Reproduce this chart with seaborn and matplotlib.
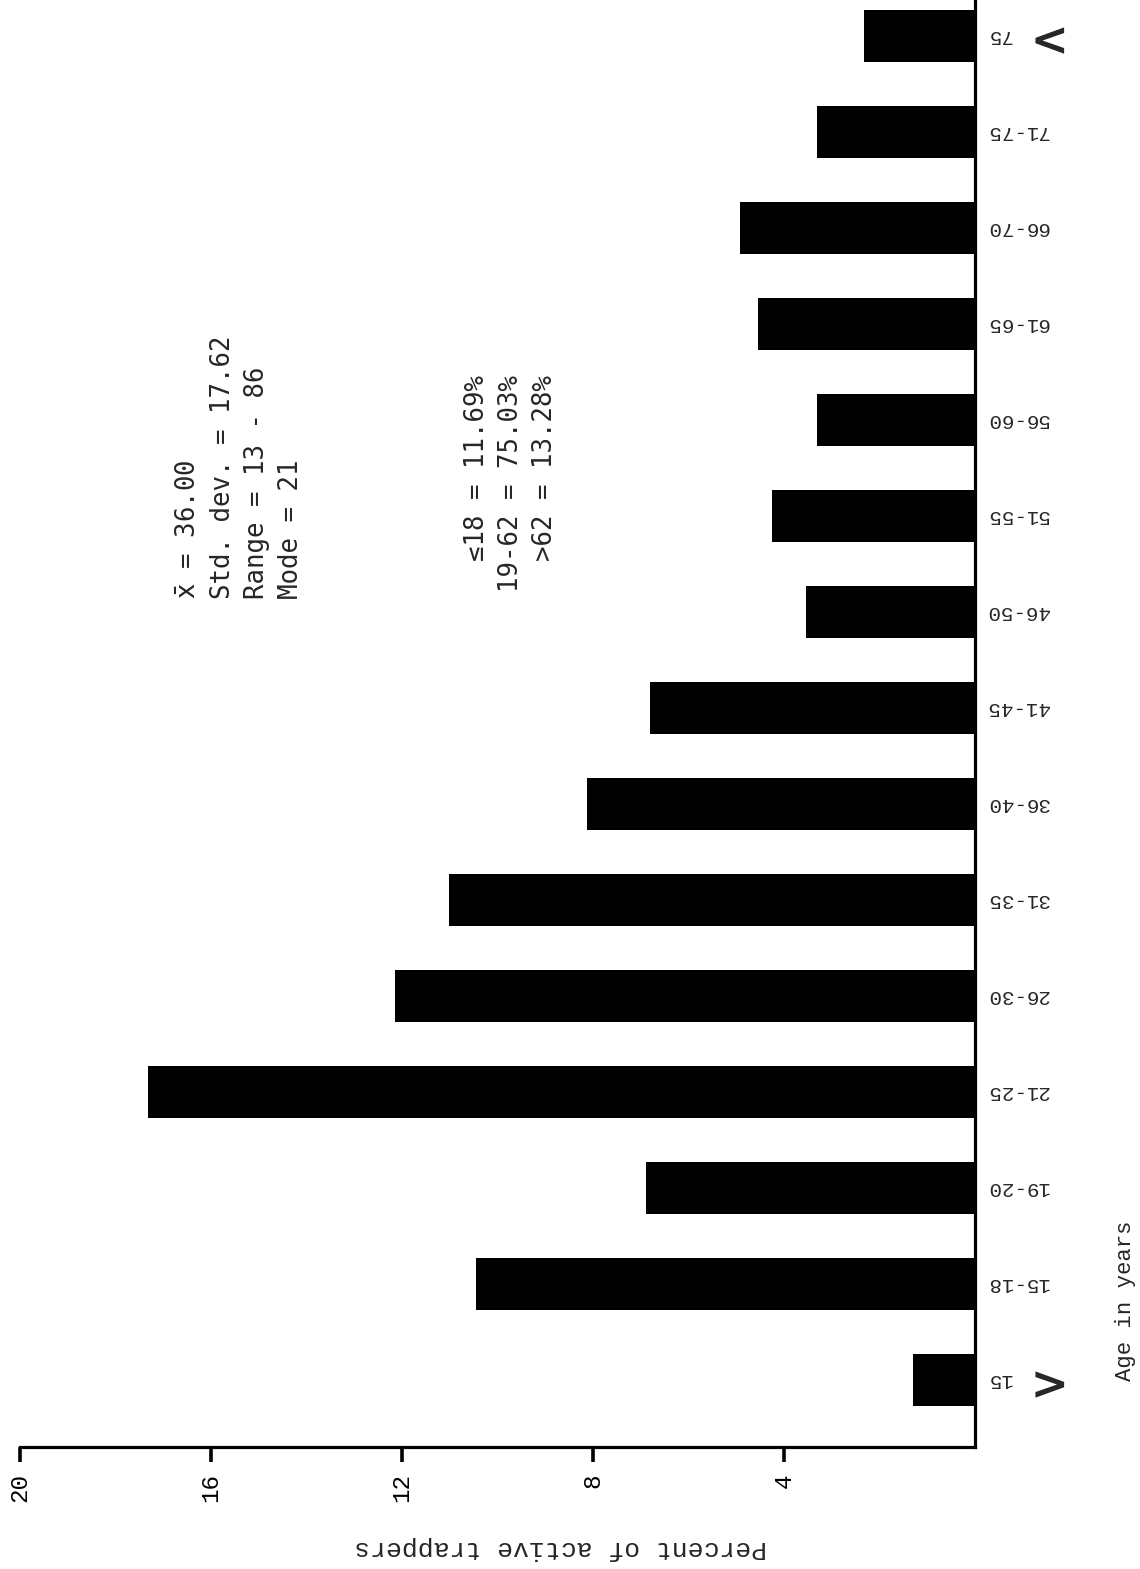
import matplotlib
matplotlib.use("Agg")
import matplotlib.pyplot as plt
import matplotlib.transforms as mtransforms
import seaborn as sns

# ---- data ----
age_groups = ["<15", "15-18", "19-20", "21-25", "26-30", "31-35", "36-40", "41-45",
              "46-50", "51-55", "56-60", "61-65", "66-70", "71-75", ">75"]
percent = [1.30, 10.45, 6.89, 17.32, 12.15, 11.02, 8.13, 6.81,
           3.54, 4.25, 3.31, 4.54, 4.92, 3.31, 2.32]
value_ticks = [20, 16, 12, 8, 4]

stats_lines = [r"$\bar{\mathrm{x}}$ = 36.00", "Std. dev. = 17.62", "Range = 13 - 86", "Mode = 21"]
share_lines = ["  \u226418 = 11.69%", "19-62 = 75.03%", "  >62 = 13.28%"]

sns.set_style("white")
plt.rcParams["font.family"] = ["Liberation Mono", "DejaVu Sans Mono", "DejaVu Sans"]
plt.rcParams["mathtext.fontset"] = "dejavusans"

fig = plt.figure(figsize=(11.4, 15.69), dpi=100)
ax = fig.add_axes([0.0175, 0.0778, 0.8377, 0.9222])

# categories from top (>75) to bottom (<15)
order = age_groups[::-1]
sns.barplot(x=percent, y=age_groups, order=order, orient="h", color="black",
            saturation=1, width=0.54, edgecolor="none", ax=ax)

ax.set_xlim(20, 0)
ax.set_ylim(len(order) - 1 + 0.7, -0.375)

for side in ["left", "top"]:
    ax.spines[side].set_visible(False)
for side in ["right", "bottom"]:
    ax.spines[side].set_linewidth(2.3)
    ax.spines[side].set_color("black")

# value axis
ax.set_xticks(value_ticks)
ax.set_xticklabels([str(v) for v in value_ticks], rotation=90, fontsize=17.5)
ax.tick_params(axis="x", bottom=True, direction="out", length=11, width=2.6,
               pad=8, colors="black")
ax.set_xlabel("")

# category axis on the right, labels upside down like the scan
ax.yaxis.tick_right()
ax.set_ylabel("")
ticklabels = [g.strip("<>") for g in order]
ax.set_yticks(range(len(order)))
ax.set_yticklabels(ticklabels, rotation=180, fontsize=15, va="center")
ax.tick_params(axis="y", left=False, right=False, length=0, pad=8)

# big chevrons on the open-ended groups
tr = mtransforms.blended_transform_factory(fig.transFigure, ax.transData)
for g in order:
    if g.startswith("<") or g.startswith(">"):
        ax.text(0.913, order.index(g), g[0], transform=tr, rotation=180,
                ha="center", va="center", fontsize=33, fontweight="bold",
                family="DejaVu Sans", clip_on=False)

# axis titles
fig.text(0.492, 0.0135, "Percent of active trappers", rotation=180,
         ha="center", va="center", fontsize=19)
fig.text(0.987, 0.171, "Age in years", rotation=90,
         ha="center", va="center", fontsize=16)

# summary statistics blocks
fig.text(0.154, 0.618, "\n".join(stats_lines), rotation=90, ha="left", va="bottom",
         fontsize=18.5, linespacing=1.4, family=["DejaVu Sans Mono", "DejaVu Sans"])
fig.text(0.407, 0.623, "\n".join(share_lines), rotation=90, ha="left", va="bottom",
         fontsize=18.5, linespacing=1.4, family=["DejaVu Sans Mono", "DejaVu Sans"])

fig.savefig("out.png", dpi=100)
